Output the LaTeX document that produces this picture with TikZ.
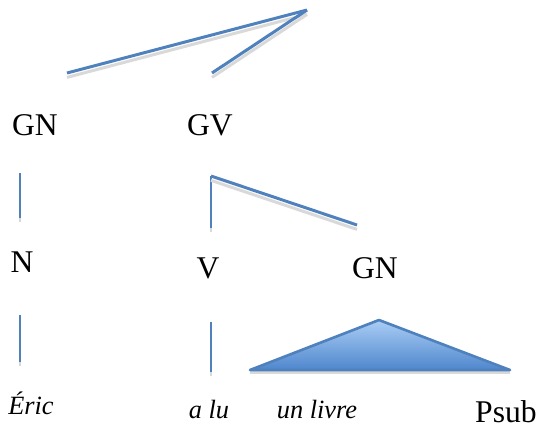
\documentclass[tikz,border=0pt]{standalone}
\usepackage{fontspec}
\setmainfont{Liberation Serif}[ItalicFont={Liberation Serif Italic}]
\definecolor{bleu}{RGB}{79,129,189}
\definecolor{bleuclair}{RGB}{170,205,245}
\definecolor{bleufonce}{RGB}{79,135,205}
\tikzset{
  branche/.style={draw=bleu, line width=1.7pt},
  ombre/.style={draw=gray!30, line width=1.7pt},
  cat/.style={inner sep=0pt, font=\fontsize{18}{20}\selectfont},
  mot/.style={inner sep=0pt, font=\fontsize{15}{17}\selectfont\itshape},
}
\newcommand{\branche}[2]{%
  \draw[ombre] ([yshift=-2.5]#1) -- ([yshift=-2.5]#2);
  \draw[branche] (#1) -- (#2);}
\begin{document}
\begin{tikzpicture}[x=0.02cm, y=-0.02cm]
    \useasboundingbox (0,0) rectangle (541,433);

    % Psub -> GN GV
    \coordinate (psub-haut) at (307,10);
    \coordinate (gn-haut) at (67,73);
    \coordinate (gv-haut) at (212,73);
    \branche{psub-haut}{gn-haut}
    \branche{psub-haut}{gv-haut}

    % etiquettes du premier niveau
    \node[cat] (gn1) at (35,125) {GN};
    \node[cat] (gv) at (210,125) {GV};

    % GN -> N
    \coordinate (gn1-bas) at (20,173);
    \coordinate (n-haut) at (20,218);
    \branche{gn1-bas}{n-haut}

    % GV -> V GN
    \coordinate (gv-bas) at (211,176);
    \coordinate (v-haut) at (211,228);
    \coordinate (gn2-haut) at (357,225);
    \branche{gv-bas}{v-haut}
    \branche{gv-bas}{gn2-haut}

    % etiquettes du deuxieme niveau
    \node[cat] (n) at (22,262) {N};
    \node[cat] (v) at (208,268) {V};
    \node[cat] (gn2) at (375,268) {GN};

    % N -> Eric, V -> a lu
    \coordinate (n-bas) at (20,315);
    \coordinate (eric-haut) at (20,362);
    \branche{n-bas}{eric-haut}
    \coordinate (v-bas) at (211,322);
    \coordinate (alu-haut) at (211,372);
    \branche{v-bas}{alu-haut}

    % triangle sous GN
    \fill[gray!30] (250,370) -- (510,370) -- (510,374) -- (250,374) -- cycle;
    \draw[bleu, line width=1.5pt, line join=round, top color=bleuclair, bottom color=bleufonce]
        (379,320) -- (510,370) -- (250,370) -- cycle;

    % mots
    \node[mot] (eric) at (31,403) {Éric};
    \node[mot] (alu) at (209,410) {a lu};
    \node[mot] (livre) at (317,410) {un livre};
    \node[cat] (psub) at (506,412) {Psub};
\end{tikzpicture}
\end{document}
